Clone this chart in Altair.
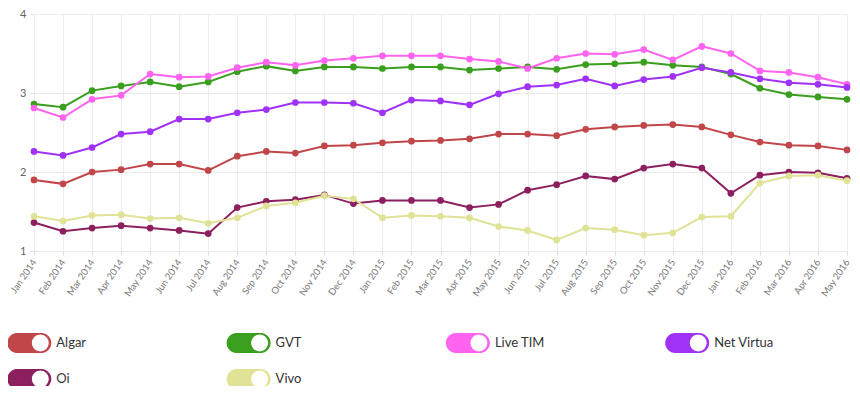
import altair as alt
import pandas as pd

months = ["Jan 2014", "Feb 2014", "Mar 2014", "Apr 2014", "May 2014", "Jun 2014", "Jul 2014",
          "Aug 2014", "Sep 2014", "Oct 2014", "Nov 2014", "Dec 2014",
          "Jan 2015", "Feb 2015", "Mar 2015", "Apr 2015", "May 2015", "Jun 2015", "Jul 2015",
          "Aug 2015", "Sep 2015", "Oct 2015", "Nov 2015", "Dec 2015",
          "Jan 2016", "Feb 2016", "Mar 2016", "Apr 2016", "May 2016"]

series_names = ["Algar", "GVT", "Live TIM", "Net Virtua", "Oi", "Vivo"]
series_colors = ["#c1464a", "#3a9e1e", "#ff63ef", "#a032f7", "#8c1f5e", "#e0e296"]

algar = [1.90, 1.85, 2.00, 2.03, 2.10, 2.10, 2.02, 2.20, 2.26, 2.24, 2.33, 2.34,
         2.37, 2.39, 2.40, 2.42, 2.48, 2.48, 2.46, 2.54, 2.57, 2.59, 2.60, 2.57,
         2.47, 2.38, 2.34, 2.33, 2.28]
gvt = [2.86, 2.82, 3.03, 3.09, 3.14, 3.08, 3.14, 3.27, 3.34, 3.28, 3.33, 3.33,
       3.31, 3.33, 3.33, 3.29, 3.31, 3.33, 3.30, 3.36, 3.37, 3.39, 3.35, 3.33,
       3.24, 3.06, 2.98, 2.95, 2.92]
live_tim = [2.81, 2.69, 2.92, 2.97, 3.24, 3.20, 3.21, 3.32, 3.39, 3.35, 3.41, 3.44,
            3.47, 3.47, 3.47, 3.43, 3.40, 3.31, 3.44, 3.50, 3.49, 3.55, 3.42, 3.59,
            3.50, 3.28, 3.26, 3.20, 3.11]
net_virtua = [2.26, 2.21, 2.31, 2.48, 2.51, 2.67, 2.67, 2.75, 2.79, 2.88, 2.88, 2.87,
              2.75, 2.91, 2.90, 2.85, 2.99, 3.08, 3.10, 3.18, 3.09, 3.17, 3.21, 3.32,
              3.26, 3.18, 3.13, 3.11, 3.07]
oi = [1.36, 1.25, 1.29, 1.32, 1.29, 1.26, 1.22, 1.55, 1.63, 1.65, 1.71, 1.60,
      1.64, 1.64, 1.64, 1.55, 1.59, 1.77, 1.84, 1.95, 1.91, 2.05, 2.10, 2.05,
      1.73, 1.96, 2.00, 1.99, 1.92]
vivo = [1.44, 1.38, 1.45, 1.46, 1.41, 1.42, 1.35, 1.42, 1.57, 1.61, 1.70, 1.66,
        1.42, 1.45, 1.44, 1.42, 1.31, 1.26, 1.14, 1.29, 1.27, 1.20, 1.23, 1.43,
        1.44, 1.86, 1.95, 1.96, 1.89]

series_values = [algar, gvt, live_tim, net_virtua, oi, vivo]

rows = []
for name, vals in zip(series_names, series_values):
    for m, v in zip(months, vals):
        rows.append({"name": name, "month": m, "value": v})
df = pd.DataFrame(rows)

legend_df = pd.DataFrame({
    "name": series_names,
    "col": [i % 4 for i in range(len(series_names))],
    "row": [i // 4 for i in range(len(series_names))],
})

FONT = "Lato"
color_scale = alt.Scale(domain=series_names, range=series_colors)

x_enc = alt.X("month:O", sort=months,
              scale=alt.Scale(type="point", padding=0),
              axis=alt.Axis(title=None, labelAngle=304, labelAlign="right", labelBaseline="middle",
                            labelFontSize=9.5, labelColor="#777777",
                            labelFont=FONT, tickSize=4, tickColor="#dddddd", domain=False,
                            gridColor="#ececec", grid=True, labelPadding=5))
y_enc = alt.Y("value:Q", scale=alt.Scale(domain=[1, 4], nice=False, zero=False),
              axis=alt.Axis(title=None, values=[1, 2, 3, 4], labelFontSize=11, labelColor="#666666",
                            labelFont=FONT, tickSize=4, tickColor="#dddddd", domain=False,
                            gridColor="#ececec", labelPadding=4))

base = alt.Chart(df).encode(
    x=x_enc, y=y_enc,
    color=alt.Color("name:N", scale=color_scale, legend=None),
)
lines = base.mark_line(strokeWidth=2)
points = base.mark_circle(size=45, opacity=1)
main = alt.layer(lines, points)

lx = alt.X("col:Q", scale=alt.Scale(domain=[0, 4], range=[-26.7, 850.5], nice=False, zero=False), axis=None)
ly = alt.Y("row:Q", scale=alt.Scale(domain=[0, 1], range=[329, 365], nice=False, zero=False), axis=None)
lbase = alt.Chart(legend_df).encode(x=lx, y=ly)

pill = lbase.mark_rect(x2Offset=44, yOffset=-10, y2Offset=10, cornerRadius=10, opacity=1).encode(
    x2=alt.X2("col"), y2=alt.Y2("row"),
    color=alt.Color("name:N", scale=color_scale, legend=None),
)
knob = lbase.mark_circle(xOffset=33, size=330, fill="white", fillOpacity=1, strokeWidth=1.2, opacity=1).encode(
    stroke=alt.Stroke("name:N", scale=color_scale, legend=None),
)
label = lbase.mark_text(xOffset=49, align="left", baseline="middle", fontSize=13, font=FONT,
                        color="#333333").encode(text="name:N")
legend = alt.layer(pill, knob, label)

chart = alt.layer(main, legend).resolve_scale(x="independent", y="independent").properties(
    width=813, height=237,
    autosize=alt.AutoSizeParams(type="none"),
    padding={"left": 26, "top": 6, "right": 5, "bottom": 135},
    background="white",
).configure_view(strokeWidth=0)

chart.save("out.html", embed_options={"renderer": "svg", "actions": False})
